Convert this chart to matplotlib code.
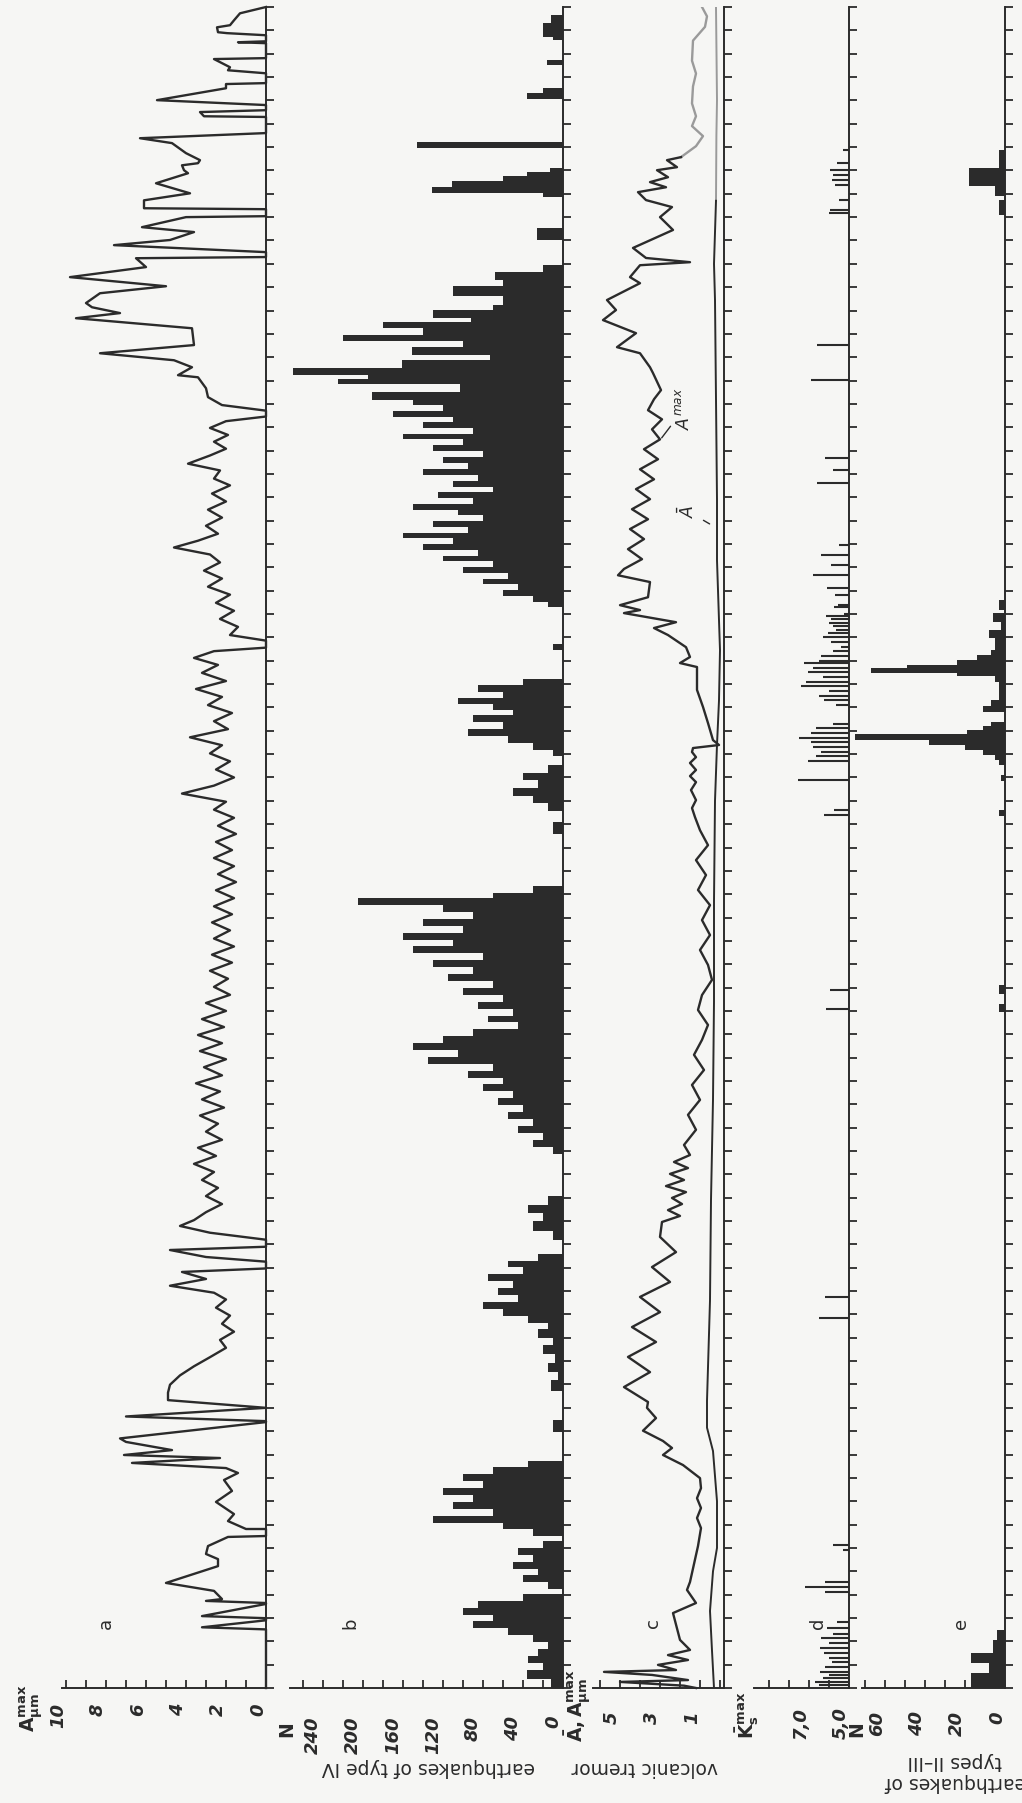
import matplotlib
matplotlib.use("Agg")
import matplotlib.pyplot as plt
import matplotlib.transforms as mtransforms

W, H = 1022, 1803
DAYS = 72
INK = "#2b2b2b"
FADED = "#9a9a9a"
PAPER = "#f6f6f4"

# ---- a: maximum tremor amplitude, (day, micrometres) ----
a_trace = [
    (72.0, 0.0), (71.73, 1.3), (71.43, 1.6), (71.22, 1.8), (71.13, 2.45), (70.92, 2.4),
    (70.88, 1.95), (70.79, 0.0), (70.53, 0.0), (70.49, 1.4), (70.45, 0.0),
    (69.81, 0.0), (69.77, 2.6), (69.42, 1.8), (69.29, 1.9), (69.16, 0.0),
    (68.74, 0.0), (68.70, 2.0), (68.52, 2.0), (68.01, 5.45), (67.80, 0.0),
    (67.58, 0.0), (67.50, 3.3), (67.32, 3.1), (67.29, 0.0), (66.60, 0.0),
    (66.38, 6.3), (66.30, 5.7), (66.17, 4.7), (65.74, 4.0), (65.44, 3.3),
    (65.31, 3.4), (65.22, 4.2), (65.01, 4.1), (64.88, 3.9), (64.45, 5.5),
    (64.02, 3.8), (63.72, 6.1), (63.38, 6.1), (63.34, 0.0),
    (63.04, 0.0), (63.00, 4.0), (62.57, 6.2), (62.44, 4.6), (62.36, 3.6),
    (62.02, 4.8), (61.80, 7.6), (61.50, 0.0),
    (61.29, 0.0), (61.24, 6.5), (60.86, 6.0), (60.43, 9.8), (60.04, 5.0),
    (59.74, 8.3), (59.32, 9.0), (59.14, 8.7), (58.89, 7.3), (58.67, 9.5),
    (58.24, 3.7), (57.52, 3.6), (57.17, 8.3), (56.87, 4.6), (56.57, 3.7),
    (56.23, 4.4), (56.14, 3.4), (55.67, 3.0), (55.29, 2.9),
    (54.95, 2.2), (54.71, 0.0), (54.46, 0.0), (54.26, 2.0), (53.97, 2.8),
    (53.67, 1.9), (53.38, 2.6), (53.08, 2.0), (52.79, 2.8), (52.44, 3.9),
    (52.15, 2.3), (51.80, 2.6), (51.51, 1.8), (51.16, 2.7), (50.82, 2.0),
    (50.47, 2.9), (50.13, 2.2), (49.78, 3.0), (49.44, 2.4), (49.14, 3.4),
    (48.85, 4.6), (48.55, 2.8), (48.21, 2.3), (47.86, 3.1), (47.52, 2.2),
    (47.17, 2.9), (46.83, 1.8), (46.48, 2.5), (46.14, 1.6), (45.79, 2.3),
    (45.45, 1.4), (45.10, 1.8), (44.86, 0.0), (44.56, 0.0), (44.41, 2.6),
    (44.12, 3.6), (43.82, 2.4), (43.48, 3.2), (43.13, 2.0), (42.79, 3.5),
    (42.45, 2.2), (42.10, 2.9), (41.76, 1.7), (41.41, 2.6), (41.07, 1.9),
    (40.72, 3.8), (40.38, 2.2), (40.03, 2.8), (39.69, 1.8), (39.34, 2.5),
    (39.00, 1.6), (38.65, 2.6), (38.31, 4.2), (37.96, 2.0), (37.62, 2.6),
    (37.27, 1.6), (36.93, 2.4), (36.58, 1.5), (36.24, 2.5), (35.89, 1.7),
    (35.55, 2.6), (35.20, 1.6), (34.86, 2.4), (34.52, 1.5), (34.17, 2.5),
    (33.83, 1.6), (33.48, 2.6), (33.14, 1.7), (32.79, 2.7), (32.45, 1.8),
    (32.10, 2.6), (31.76, 1.6), (31.41, 2.7), (31.07, 1.7), (30.72, 2.8),
    (30.38, 1.9), (30.03, 2.6), (29.69, 1.8), (29.34, 3.0), (29.00, 2.0),
    (28.65, 3.2), (28.31, 2.1), (27.97, 3.4), (27.62, 2.2), (27.28, 3.3),
    (26.93, 2.0), (26.59, 3.1), (26.24, 2.2), (25.90, 3.5), (25.55, 2.3),
    (25.21, 3.2), (24.86, 2.1), (24.52, 3.3), (24.17, 2.4), (23.83, 3.0),
    (23.48, 2.2), (23.14, 3.4), (22.79, 2.5), (22.45, 3.6), (22.10, 2.6),
    (21.76, 3.2), (21.42, 2.4), (21.07, 3.0), (20.73, 2.2), (20.38, 3.0),
    (20.04, 3.6), (19.79, 4.3), (19.50, 2.8), (19.20, 0.0), (18.90, 0.0),
    (18.76, 4.8), (18.46, 3.0), (18.26, 0.0), (17.97, 0.0), (17.82, 4.2),
    (17.52, 3.0), (17.23, 4.8), (16.93, 2.6), (16.64, 2.0), (16.29, 2.5),
    (15.95, 1.8), (15.60, 2.2), (15.26, 1.6), (14.91, 2.3), (14.57, 2.0),
    (14.17, 2.8), (13.78, 3.6), (13.39, 4.3), (12.99, 4.8), (12.65, 4.9),
    (12.33, 4.9), (12.00, 0.0), (11.63, 7.0), (11.43, 0.0), (11.39, 0.0),
    (10.69, 7.3), (10.54, 7.0), (10.19, 4.7), (9.98, 7.1), (9.85, 2.3),
    (9.64, 6.7), (9.42, 2.0), (9.21, 1.4), (8.91, 2.1), (8.44, 1.7),
    (7.97, 2.5), (7.45, 1.6), (7.15, 1.9), (6.81, 1.0), (6.81, 0.0), (6.51, 0.0),
    (6.47, 1.9), (6.08, 2.9), (5.74, 3.0), (5.52, 2.4), (5.22, 2.4),
    (4.50, 5.0), (4.16, 2.6), (3.81, 2.2), (3.73, 3.0), (3.64, 0.0), (3.60, 0.0),
    (3.08, 3.2), (2.99, 0.0), (2.90, 0.0), (2.60, 3.2), (2.51, 0.0), (2.25, 0.0),
    (0.0, 0.0),
]
a_day = [d for d, _ in a_trace]
a_amp = [v for _, v in a_trace]

# ---- b: type IV earthquake counts as steps, (step start day, count) ----
b_steps = [
    (72.0, 0), (71.65, 12), (71.31, 20), (70.71, 10), (70.58, 0), (69.72, 16),
    (69.51, 0), (68.52, 20), (68.31, 36), (68.05, 0), (66.21, 146), (65.95, 0),
    (65.10, 13), (64.93, 36), (64.75, 60), (64.54, 111), (64.28, 131), (64.03, 20),
    (63.85, 0), (62.53, 26), (62.02, 0), (60.94, 20), (60.64, 68), (60.30, 60),
    (60.04, 110), (59.61, 60), (59.23, 70), (59.01, 130), (58.67, 92), (58.51, 180),
    (58.24, 140), (57.94, 220), (57.69, 100), (57.43, 151), (57.09, 73), (56.87, 161),
    (56.53, 270), (56.23, 195), (56.06, 225), (55.85, 103), (55.50, 191), (55.16, 150),
    (54.95, 120), (54.71, 170), (54.46, 110), (54.22, 140), (53.97, 90), (53.72, 160),
    (53.48, 100), (53.23, 130), (52.98, 80), (52.74, 120), (52.49, 95), (52.20, 140),
    (51.95, 85), (51.70, 110), (51.46, 70), (51.21, 125), (50.97, 90), (50.72, 150),
    (50.47, 105), (50.23, 80), (49.98, 130), (49.73, 95), (49.49, 160), (49.24, 110),
    (48.99, 140), (48.75, 85), (48.50, 120), (48.26, 70), (48.01, 100), (47.76, 55),
    (47.52, 80), (47.27, 45), (47.02, 60), (46.78, 30), (46.53, 15), (46.29, 0),
    (44.71, 10), (44.46, 0),
    (43.23, 40), (42.94, 85), (42.64, 60), (42.39, 105), (42.15, 70), (41.90, 50),
    (41.66, 90), (41.36, 60), (41.07, 95), (40.77, 55), (40.48, 30), (40.18, 10),
    (39.93, 0), (39.54, 15), (39.19, 40), (38.90, 25), (38.55, 50), (38.21, 30),
    (37.91, 15), (37.57, 0), (37.08, 10), (36.58, 0),
    (34.37, 30), (34.07, 70), (33.83, 205), (33.53, 120), (33.24, 90), (32.94, 140),
    (32.65, 100), (32.35, 160), (32.05, 110), (31.76, 150), (31.46, 80), (31.17, 130),
    (30.87, 90), (30.58, 115), (30.28, 70), (29.98, 100), (29.69, 60), (29.39, 85),
    (29.10, 50), (28.80, 75), (28.51, 45), (28.21, 90), (27.92, 120), (27.62, 150),
    (27.33, 105), (27.03, 135), (26.73, 70), (26.44, 95), (26.14, 60), (25.85, 80),
    (25.55, 50), (25.26, 65), (24.96, 40), (24.67, 55), (24.37, 30), (24.07, 45),
    (23.78, 20), (23.48, 30), (23.19, 10), (22.89, 0),
    (21.07, 15), (20.68, 35), (20.33, 20), (19.99, 30), (19.59, 10), (19.20, 0),
    (18.61, 25), (18.31, 55), (18.02, 40), (17.72, 75), (17.43, 50), (17.13, 65),
    (16.83, 45), (16.54, 80), (16.24, 60), (15.95, 35), (15.65, 15), (15.36, 25),
    (15.01, 10), (14.67, 20), (14.32, 8), (13.93, 15), (13.53, 5), (13.19, 12),
    (12.70, 0), (11.47, 10), (10.97, 0),
    (9.74, 35), (9.45, 70), (9.15, 100), (8.86, 80), (8.56, 120), (8.27, 90),
    (7.97, 110), (7.67, 70), (7.38, 130), (7.08, 60), (6.79, 30), (6.49, 0),
    (6.30, 20), (6.00, 45), (5.71, 30), (5.41, 50), (5.11, 25), (4.82, 40),
    (4.52, 15), (4.22, 0), (4.03, 40), (3.73, 85), (3.44, 100), (3.14, 70),
    (2.85, 90), (2.55, 55), (2.26, 30), (1.96, 15), (1.67, 25), (1.37, 35),
    (1.07, 20), (0.78, 36), (0.39, 12), (0.0, 0),
]
b_day = [d for d, _ in b_steps]
b_num = [n for _, n in b_steps]

# ---- c: maximum and mean tremor amplitude, (day, micrometres) ----
c_max_trace = [
    (72.0, 0.9), (71.6, 0.65), (71.15, 0.75), (70.56, 1.35), (69.7, 1.4), (69.15, 1.2),
    (68.6, 1.35), (67.87, 1.4), (67.32, 1.2), (66.9, 1.4), (66.47, 0.85), (66.04, 1.2),
    (65.57, 1.95), (65.44, 2.65), (65.14, 2.15), (65.01, 3.15), (64.71, 2.6),
    (64.5, 3.5), (64.28, 2.7), (64.07, 4.1), (63.73, 3.7), (63.43, 2.4), (63.0, 3.0),
    (62.45, 2.35), (61.68, 4.35), (61.25, 3.7), (61.07, 1.5), (60.94, 4.0),
    (60.43, 4.5), (60.17, 4.0), (59.45, 5.65), (59.02, 5.2), (58.59, 5.85),
    (58.03, 4.2), (57.43, 5.15), (57.17, 4.0), (56.57, 3.5), (56.32, 3.35),
    (55.59, 2.95), (55.2, 3.3), (54.73, 3.6), (54.34, 2.9), (53.91, 3.4),
    (53.48, 3.0), (53.06, 3.8), (52.63, 3.1), (52.2, 4.0), (51.77, 3.3),
    (51.35, 4.2), (50.92, 3.5), (50.49, 4.4), (50.06, 3.6), (49.64, 4.5),
    (49.21, 3.8), (48.78, 4.6), (48.35, 3.9), (47.93, 4.8), (47.66, 5.1),
    (47.37, 3.5), (46.72, 3.6), (46.38, 5.0), (46.17, 4.0), (46.04, 4.8),
    (45.65, 2.2), (45.4, 3.3), (45.1, 2.6), (44.58, 1.7), (44.16, 1.5),
    (43.9, 2.0), (43.73, 1.15), (42.75, 1.15), (42.02, 0.85), (41.33, 0.6),
    (40.6, 0.35), (40.39, 0.05), (40.26, 1.35), (40.09, 1.4), (39.87, 1.2),
    (39.62, 1.5), (39.32, 1.2), (39.06, 1.5), (38.8, 1.2), (38.46, 1.45),
    (38.03, 1.2), (37.69, 1.4), (37.3, 1.25), (36.74, 1.0), (36.1, 0.6),
    (35.46, 1.2), (34.82, 0.7), (34.18, 1.1), (33.53, 0.5), (32.89, 0.9),
    (32.25, 0.5), (31.61, 1.0), (30.97, 0.6), (30.33, 0.4), (29.68, 0.9),
    (29.04, 1.1), (28.4, 0.6), (27.76, 0.9), (27.12, 1.3), (26.47, 0.8),
    (25.83, 1.4), (25.19, 1.0), (24.55, 1.6), (23.91, 1.2), (23.26, 1.8),
    (22.83, 1.5), (22.53, 2.3), (22.27, 1.6), (22.02, 2.5), (21.76, 1.8),
    (21.5, 2.7), (21.24, 1.7), (20.99, 2.4), (20.73, 1.9), (20.47, 2.6),
    (20.22, 2.0), (19.96, 2.9), (19.32, 3.0), (18.67, 2.2), (18.03, 3.4),
    (17.39, 2.5), (16.75, 4.0), (16.1, 3.0), (15.46, 4.4), (14.82, 3.2),
    (14.18, 4.6), (13.53, 3.5), (12.89, 4.8), (12.25, 3.6), (12.0, 3.65),
    (11.56, 3.2), (11.02, 3.85), (10.58, 2.85), (10.28, 2.4), (9.98, 2.85),
    (9.55, 1.85), (8.99, 1.0), (8.56, 0.95), (8.13, 1.15), (7.71, 0.95),
    (7.28, 1.15), (6.85, 0.95), (6.08, 1.1), (4.54, 1.5), (4.2, 1.65),
    (3.64, 1.2), (3.21, 2.35), (2.06, 2.0), (1.63, 1.5), (1.41, 2.6),
    (1.2, 1.6), (0.99, 3.1), (0.77, 2.2), (0.69, 5.8), (0.56, 3.4),
    (0.34, 1.6), (0.26, 5.0), (0.1, 1.8), (0.0, 1.2),
]
c_max_day = [d for d, _ in c_max_trace]
c_max_amp = [v for _, v in c_max_trace]

c_mean_trace = [
    (72.0, 0.2), (68.0, 0.15), (66.5, 0.18), (63.7, 0.2), (61.0, 0.3), (59.45, 0.25),
    (55.2, 0.2), (50.9, 0.15), (48.3, 0.15), (44.45, 0.0), (42.3, 0.05), (40.4, 0.15),
    (38.0, 0.25), (33.7, 0.3), (29.4, 0.3), (25.2, 0.35), (20.9, 0.45),
    (16.6, 0.5), (12.3, 0.65), (11.15, 0.65), (10.15, 0.35), (8.0, 0.15),
    (6.0, 0.15), (5.0, 0.35), (3.3, 0.5), (1.6, 0.4), (0.0, 0.3),
]
c_mean_day = [d for d, _ in c_mean_trace]
c_mean_amp = [v for _, v in c_mean_trace]

# ---- d: maximum energy class of type II-III earthquakes, (day, class) ----
d_events = [
    (65.87, 5.3), (65.31, 5.6), (65.01, 5.95), (64.80, 5.8), (64.58, 5.85),
    (64.37, 5.7), (63.73, 5.5), (63.30, 5.95), (63.17, 6.0), (57.52, 6.6),
    (56.02, 6.9), (52.68, 6.2), (52.16, 5.8), (51.61, 6.6), (48.95, 5.5),
    (48.52, 6.4), (48.09, 5.9), (47.67, 6.8), (47.11, 6.1), (46.81, 5.7),
    (46.4, 5.55), (46.3, 5.75), (46.0, 5.25), (45.9, 6.15), (45.8, 5.9),
    (45.6, 6.0), (45.5, 5.8), (45.3, 5.65), (45.2, 6.05), (45.0, 6.3),
    (44.8, 5.9), (44.6, 5.4), (44.4, 5.8), (44.2, 6.4), (44.0, 6.5),
    (43.9, 7.25), (43.7, 6.8), (43.5, 7.05), (43.3, 6.3), (43.1, 7.15),
    (42.9, 7.4), (42.7, 6.0), (42.5, 6.5), (42.3, 6.25), (42.1, 5.65),
    (41.3, 5.8), (41.1, 6.65), (40.9, 6.9), (40.7, 7.5), (40.5, 6.9),
    (40.3, 6.8), (40.1, 6.4), (39.9, 6.65), (39.7, 7.05), (38.9, 7.55),
    (37.6, 5.75), (37.4, 6.25), (29.9, 5.95), (29.1, 6.15), (16.75, 6.2),
    (15.85, 6.5), (6.12, 5.8), (5.91, 5.3), (4.54, 6.2), (4.33, 7.2),
    (4.11, 6.2), (2.83, 5.6), (2.57, 6.1), (2.31, 5.8), (2.14, 6.4),
    (1.93, 6.0), (1.71, 6.45), (1.50, 6.27), (1.28, 6.0), (1.11, 5.85),
    (0.90, 6.2), (0.69, 6.45), (0.56, 6.0), (0.43, 6.3), (0.26, 6.7), (0.13, 6.5),
]
d_day = [d for d, _ in d_events]
d_cls = [k for _, k in d_events]

# ---- e: counts of type II-III earthquakes as steps, (step start day, count) ----
e_steps = [
    (72.0, 0), (65.87, 3), (65.10, 18), (64.33, 5), (63.90, 0), (63.73, 3),
    (63.08, 0), (46.60, 3), (46.17, 0), (46.04, 6), (45.65, 2), (45.31, 8),
    (44.97, 5), (44.45, 7), (44.24, 14), (44.03, 24), (43.81, 49), (43.68, 67),
    (43.47, 24), (43.34, 5), (43.08, 3), (42.31, 7), (42.06, 11), (41.80, 0),
    (41.37, 7), (41.20, 11), (41.03, 19), (40.86, 75), (40.60, 38), (40.39, 20),
    (40.17, 11), (39.96, 5), (39.74, 3), (39.53, 0), (39.10, 2), (38.84, 0),
    (37.60, 3), (37.34, 0), (30.11, 3), (29.72, 0), (29.29, 3), (28.95, 0),
    (2.48, 4), (2.06, 6), (1.50, 17), (1.07, 8), (0.64, 17), (0.0, 17),
]
e_day = [d for d, _ in e_steps]
e_num = [n for _, n in e_steps]

fig = plt.figure(figsize=(W / 100, H / 100), dpi=100)
fig.patch.set_facecolor(PAPER)

Y_TOP, Y_BOT = 7, 1688


def panel(x_left, x_right, v_left, v_right):
    ax = fig.add_axes([x_left / W, (H - Y_BOT) / H, (x_right - x_left) / W,
                       (Y_BOT - Y_TOP) / H])
    ax.set_facecolor("none")
    ax.set_xlim(v_left, v_right)
    ax.set_ylim(0, DAYS)
    for s in ("left", "top"):
        ax.spines[s].set_visible(False)
    for s in ("right", "bottom"):
        ax.spines[s].set_color(INK)
        ax.spines[s].set_linewidth(1.4)
    ax.yaxis.tick_right()
    ax.set_yticks(range(0, DAYS + 1))
    ax.tick_params(axis="y", direction="out", length=6, width=1.3,
                   color=INK, labelright=False)
    ax.tick_params(axis="x", direction="in", length=6, width=1.3,
                   color=INK, labelbottom=False)
    return ax


def value_labels(ax, values, texts, y_px, dx=-8):
    off = mtransforms.ScaledTranslation(dx / 100, 0, fig.dpi_scale_trans)
    trans = mtransforms.blended_transform_factory(ax.transData, fig.transFigure) + off
    for v, t in zip(values, texts):
        ax.text(v, 1 - y_px / H, t, transform=trans, rotation=90, ha="center",
                va="top", fontsize=13, fontstyle="italic", fontweight="bold",
                color=INK)


# a
ax_a = panel(62, 266, 10.2, 0)
ax_a.set_xticks(range(0, 11))
ax_a.plot(a_amp, a_day, color=INK, lw=1.7, clip_on=False)
value_labels(ax_a, [10, 8, 6, 4, 2, 0], ["10", "8", "6", "4", "2", "0"], 1703)

# b
ax_b = panel(290, 563, 273, 0)
ax_b.set_xticks(range(0, 261, 20))
ax_b.fill_betweenx(b_day, 0, b_num, step="post", color=INK, lw=0, clip_on=False)
value_labels(ax_b, [240, 200, 160, 120, 80, 40, 0],
             ["240", "200", "160", "120", "80", "40", "0"], 1716, dx=-10)

# c  (the top of the record is printed faintly)
ax_c = panel(593, 724, 6.35, -0.2)
ax_c.set_xticks(range(0, 7))
FADE_DAY = 66.0
k_max = next(i for i, d in enumerate(c_max_day) if d < FADE_DAY)
k_mean = next(i for i, d in enumerate(c_mean_day) if d < FADE_DAY)
ax_c.plot(c_max_amp[:k_max + 1], c_max_day[:k_max + 1], color=FADED, lw=1.7)
ax_c.plot(c_max_amp[k_max:], c_max_day[k_max:], color=INK, lw=1.7, clip_on=False)
ax_c.plot(c_mean_amp[:k_mean + 1], c_mean_day[:k_mean + 1], color=FADED, lw=1.4)
ax_c.plot(c_mean_amp[k_mean:], c_mean_day[k_mean:], color=INK, lw=1.4)
ax_c.annotate(r"$A^{max}$", xy=(3.0, 53.45), xytext=(1.8, 54.8), rotation=90,
              ha="center", va="center", fontsize=12.5, color=INK,
              arrowprops=dict(arrowstyle="-", color=INK, lw=1.0))
ax_c.annotate(r"$\bar{A}$", xy=(0.4, 49.8), xytext=(1.6, 50.4), rotation=90,
              ha="center", va="center", fontsize=12.5, color=INK,
              arrowprops=dict(arrowstyle="-", color=INK, lw=1.0))
value_labels(ax_c, [5, 3, 1], ["5", "3", "1"], 1711)

# d
ax_d = panel(754, 849, 9.75, 5.0)
ax_d.set_xticks(range(5, 10))
ax_d.hlines(d_day, 5.0, d_cls, color=INK, lw=1.5)
value_labels(ax_d, [7.0, 5.0], ["7,0", "5,0"], 1707)

# e
ax_e = panel(862, 1005, 71.5, 0)
ax_e.set_xticks(range(0, 71, 10))
ax_e.fill_betweenx(e_day, 0, e_num, step="post", color=INK, lw=0, clip_on=False)
value_labels(ax_e, [60, 40, 20, 0], ["60", "40", "20", "0"], 1711)

# quantity symbols at the ends of the value axes
sym = dict(rotation=90, ha="center", va="center", fontsize=13.5, color=INK,
           fontweight="bold")
fig.text(32 / W, 1 - 1708 / H, r"$\mathbf{A^{max}_{\mu m}}$", **sym)
fig.text(288 / W, 1 - 1731 / H, r"$\mathbf{N}$", **sym)
fig.text(578 / W, 1 - 1706 / H, r"$\mathbf{\bar{A}, A^{max}_{\mu m}}$", **sym)
fig.text(747 / W, 1 - 1715 / H, r"$\mathbf{\bar{K}^{max}_{s}}$", **sym)
fig.text(858 / W, 1 - 1731 / H, r"$\mathbf{N}$", **sym)

# panel letters
for x, letter in [(106, "a"), (350, "b"), (653, "c"), (818, "d"), (961, "e")]:
    fig.text(x / W, 1 - 1623 / H, letter, rotation=90, ha="center", va="center",
             fontsize=13, color=INK)

# quantity names
name = dict(rotation=180, ha="center", va="center", fontsize=13.5, color=INK)
fig.text(428 / W, 1 - 1768 / H, "earthquakes of type IV", **name)
fig.text(645 / W, 1 - 1768 / H, "volcanic tremor", **name)
fig.text(955 / W, 1 - 1772 / H, "earthquakes of\ntypes II\u2013III", linespacing=1.1,
         **name)

fig.savefig("out.png", dpi=100, facecolor=PAPER)
